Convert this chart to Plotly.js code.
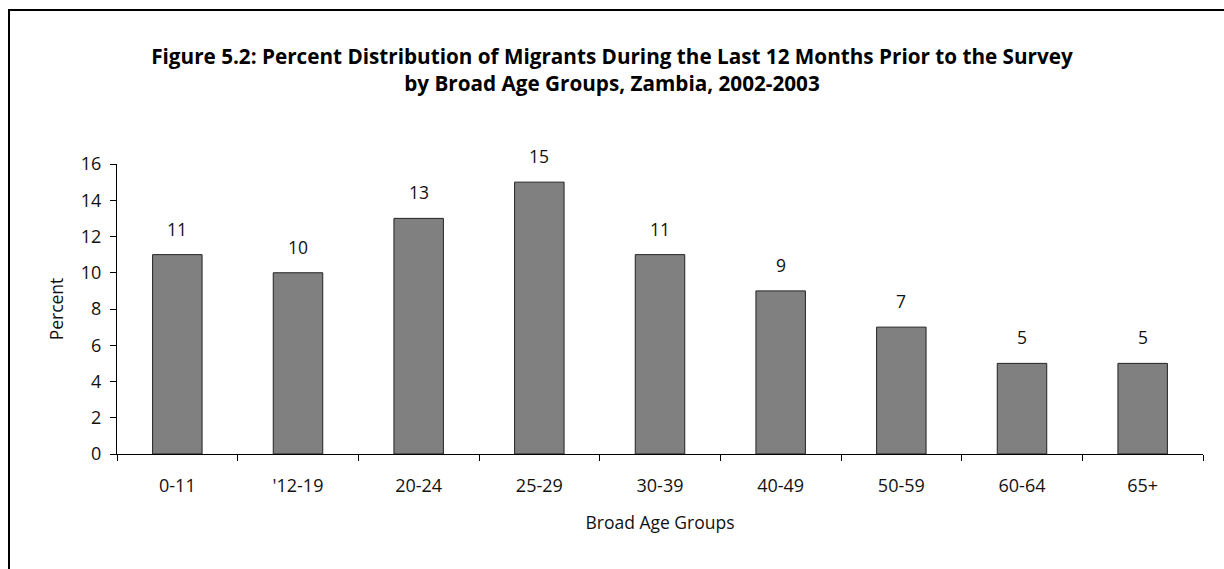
<!DOCTYPE html>
<html>
<head>
<meta charset="utf-8">
<script src="https://cdn.plot.ly/plotly-3.0.1.min.js"></script>
<style>
html,body{margin:0;padding:0;background:#fff;}
#chart{width:1224px;height:569px;}
</style>
</head>
<body>
<div id="chart"></div>
<script>
const categories = ["0-11", "'12-19", "20-24", "25-29", "30-39", "40-49", "50-59", "60-64", "65+"];
const percentValues = [11, 10, 13, 15, 11, 9, 7, 5, 5];
const yTicks = [0, 2, 4, 6, 8, 10, 12, 14, 16];

const FONT = "'Open Sans', sans-serif";

const trace = {
  type: 'bar',
  x: categories,
  y: percentValues,
  marker: {color: '#808080', line: {color: '#222222', width: 1}},
  hoverinfo: 'x+y'
};

const annotations = categories.map((c, i) => ({
  x: c, y: percentValues[i], xref: 'x', yref: 'y',
  text: String(percentValues[i]), showarrow: false,
  yanchor: 'bottom', yshift: 12,
  font: {family: FONT, size: 17.5, color: '#111'}
}));

const px = v => (v - 117) / 1086;
const py = v => (454 - v) / 290;
const shapes = [
  {type: 'line', xref: 'paper', yref: 'paper', x0: px(9), x1: px(9), y0: py(10), y1: py(575), line: {color: '#000', width: 2}},
  {type: 'line', xref: 'paper', yref: 'paper', x0: px(8), x1: px(1230), y0: py(10), y1: py(10), line: {color: '#000', width: 2}}
];

const layout = {
  width: 1224, height: 569,
  margin: {l: 117, r: 21, t: 164, b: 115},
  paper_bgcolor: '#fff', plot_bgcolor: '#fff',
  showlegend: false,
  bargap: 0.59,
  font: {family: FONT, size: 17, color: '#111'},
  title: {
    text: '<b>Figure 5.2: Percent Distribution of Migrants During the Last 12 Months Prior to the Survey<br>by Broad Age Groups, Zambia, 2002-2003</b>',
    x: 0.5, xanchor: 'center', y: 0.888, yanchor: 'top',
    font: {family: FONT, size: 20.7, color: '#000'}
  },
  xaxis: {
    type: 'category',
    showline: true, linecolor: '#000', linewidth: 1,
    ticks: 'outside', tickson: 'boundaries', ticklen: 6, tickcolor: '#000',
    ticklabelstandoff: 15,
    showgrid: false, zeroline: false,
    tickfont: {family: FONT, size: 18, color: '#111'},
    title: {text: 'Broad Age Groups', standoff: 21, font: {family: FONT, size: 17.5, color: '#111'}}
  },
  yaxis: {
    range: [0, 16], tickvals: yTicks,
    showline: true, linecolor: '#000', linewidth: 1,
    ticks: 'outside', ticklen: 6, tickcolor: '#000',
    ticklabelstandoff: 5,
    showgrid: false, zeroline: false,
    tickfont: {family: FONT, size: 18, color: '#111'},
    title: {text: 'Percent', standoff: 12, font: {family: FONT, size: 17.5, color: '#111'}}
  },
  annotations: annotations,
  shapes: shapes
};

Plotly.newPlot('chart', [trace], layout, {displayModeBar: false, staticPlot: true});
</script>
</body>
</html>
